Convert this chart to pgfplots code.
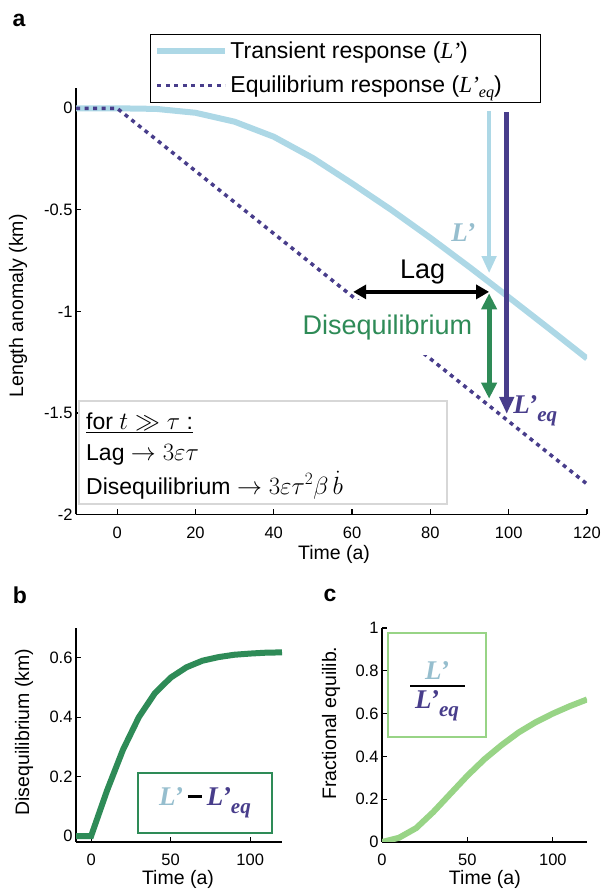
\documentclass[border=0pt]{standalone}
\usepackage{pgfplots}
\pgfplotsset{compat=1.18}
\usepackage{graphicx}
\usepackage{fontspec}
\setmainfont{Liberation Sans}
\newfontfamily\serifit{Liberation Serif}
\usetikzlibrary{arrows.meta}

\definecolor{ltblue}{RGB}{173,216,230}
\definecolor{ltbluetxt}{RGB}{150,190,206}
\definecolor{dpurple}{RGB}{72,61,139}
\definecolor{sgreen}{RGB}{46,139,87}
\definecolor{lgreen}{RGB}{152,212,134}
\definecolor{boxgray}{RGB}{215,215,215}

\newcommand{\fs}[1]{\fontsize{#1}{#1}\selectfont}
\newcommand{\Lp}{{\serifit\bfseries\itshape L’}}
\newcommand{\Leq}{{\serifit\bfseries\itshape L’\raisebox{-0.28em}{\scalebox{0.78}{eq}}}}
\newcommand{\lgLp}{{\serifit\itshape L’}}
\newcommand{\lgLeq}{{\serifit\itshape L’\raisebox{-0.22em}{\scalebox{0.7}{eq}}}}

\pgfplotsset{
  panel/.style={
    scale only axis, anchor=south west,
    axis lines*=left,
    axis line style={line width=1.6pt, black},
    tick align=inside, major tick length=5pt,
    tick style={line width=1.2pt, black},
    /pgf/number format/assume math mode=true,
    tick label style={font=\fs{16.5}},
    label style={font=\fs{19.5}},
  },
}

\begin{document}
\begin{tikzpicture}
\path[use as bounding box] (0pt,0pt) rectangle (602pt,890pt);

% ---- panel a ----
\begin{axis}[panel,
  at={(76pt,375.5pt)}, width=511pt, height=426.5pt,
  xmin=-10.5, xmax=120, ymin=-2, ymax=0.1,
  xtick={0,20,...,120},
  ytick={-2,-1.5,-1,-0.5,0}, yticklabels={-2,-1.5,-1,-0.5,0},
  xticklabel shift=9pt,
  xlabel={Time (a)}, ylabel={Length anomaly (km)},
  xlabel style={at={(axis description cs:0.505,-0.094)}, anchor=center},
  ylabel style={at={(axis description cs:-0.1135,0.489)}, anchor=center},
  legend style={at={(0.1448,1.1275)}, anchor=north west, draw=black,
    line width=1pt, font=\fs{23}, fill=white, inner xsep=4pt, inner ysep=6pt,
    row sep=12pt, nodes={inner sep=2pt}},
  legend cell align=left,
  legend image code/.code={\draw[#1] (0pt,0pt) -- (68pt,0pt);},
]
\addplot[ltblue, line width=6pt] coordinates {
  (-10.5,0) (0,0) (10,-0.003) (20,-0.022) (30,-0.066) (40,-0.14) (50,-0.245)
  (60,-0.37) (70,-0.5) (80,-0.638) (90,-0.782) (100,-0.93) (110,-1.08) (120,-1.232)
};
\addlegendentry{Transient response (\lgLp)}
\addplot[dpurple, line width=3.5pt, dash pattern=on 4pt off 4.5pt] coordinates {
  (-10.5,0) (0,0) (120,-1.85)
};
\addlegendentry{Equilibrium response (\lgLeq)\hspace*{33pt}}

\node[font=\fs{27}, text=sgreen, fill=white, inner xsep=10pt, inner ysep=15pt]
  at (axis cs:69,-1.079) {Disequilibrium};
\node[font=\fs{27}] at (axis cs:78,-0.805) {Lag};
\draw[ltblue, line width=4pt, -{Triangle[length=17pt,width=14pt]}]
  (axis cs:95,-0.013) -- (axis cs:95,-0.812);
\draw[dpurple, line width=4.5pt, -{Triangle[length=17pt,width=14pt]}]
  (axis cs:99.5,-0.02) -- (axis cs:99.5,-1.505);
\draw[black, line width=3.5pt,
  {Triangle[length=13pt,width=14pt]}-{Triangle[length=13pt,width=14pt]}]
  (axis cs:60.3,-0.904) -- (axis cs:95,-0.904);
\draw[sgreen, line width=5pt,
  {Triangle[length=16pt,width=15pt]}-{Triangle[length=16pt,width=15pt]}]
  (axis cs:95,-0.911) -- (axis cs:95,-1.43);
\node[font=\fs{27}, text=ltbluetxt] at (axis cs:88.4,-0.614) {\Lp};
\node[font=\fs{27}, text=dpurple] at (axis cs:106.8,-1.49) {\Leq};
\end{axis}

% formula box
\draw[boxgray, line width=2pt, fill=white] (79pt,489pt) rectangle (447pt,386pt);
\node[anchor=west, inner sep=0pt, font=\fs{23}] at (86pt,467pt) {\underline{for $t \gg \tau$ :}};
\node[anchor=west, inner sep=0pt, font=\fs{23}] at (86pt,435pt) {Lag $\rightarrow 3\varepsilon\tau$};
\node[anchor=west, inner sep=0pt, font=\fs{23}] at (86pt,405pt) {Disequilibrium $\rightarrow 3\varepsilon\tau^2\beta\,\dot{b}$};

% ---- panel b ----
\begin{axis}[panel,
  at={(76pt,48pt)}, width=206pt, height=214pt,
  xmin=-9.5, xmax=120, ymin=-0.02, ymax=0.7,
  xtick={0,50,100}, ytick={0,0.2,0.4,0.6},
  xticklabel shift=8pt,
  xlabel={Time (a)}, ylabel={Disequilibrium (km)},
  xlabel style={at={(axis description cs:0.495,-0.175)}, anchor=center},
  ylabel style={at={(axis description cs:-0.252,0.514)}, anchor=center},
]
\addplot[sgreen, line width=6pt] coordinates {
  (-9.5,0) (0,0) (10,0.153) (20,0.29) (30,0.40) (40,0.48) (50,0.533) (60,0.568)
  (70,0.59) (80,0.602) (90,0.61) (100,0.614) (110,0.617) (120,0.618)
};
\end{axis}
\draw[sgreen, line width=2pt, fill=white] (138pt,117pt) rectangle (272pt,57pt);
\node[font=\fs{27}] at (205pt,87pt)
  {\textcolor{ltbluetxt}{\Lp}\,\rule[0.28em]{0.55em}{0.12em}\,\textcolor{dpurple}{\Leq}};

% ---- panel c ----
\begin{axis}[panel,
  at={(382pt,48pt)}, width=205pt, height=214pt,
  xmin=0, xmax=120, ymin=0, ymax=1,
  xtick={0,50,100}, ytick={0,0.2,...,1},
  xticklabel shift=8pt,
  xlabel={Time (a)}, ylabel={Fractional equilib.},
  xlabel style={at={(axis description cs:0.502,-0.175)}, anchor=center},
  ylabel style={at={(axis description cs:-0.249,0.556)}, anchor=center},
]
\addplot[lgreen, line width=6pt] coordinates {
  (0,0) (10,0.02) (20,0.065) (30,0.14) (40,0.225) (50,0.31) (60,0.387)
  (70,0.453) (80,0.512) (90,0.56) (100,0.6) (110,0.635) (120,0.666)
};
\end{axis}
\draw[lgreen, line width=2pt, fill=white] (388pt,257pt) rectangle (486pt,153pt);
\node[font=\fs{27}, text=ltbluetxt] at (437pt,219pt) {\Lp};
\draw[black, line width=1.8pt] (410pt,204pt) -- (465pt,204pt);
\node[font=\fs{27}, text=dpurple] at (437pt,184pt) {\Leq};

% panel letters
\node[font=\bfseries\fs{23}] at (19pt,870pt) {a};
\node[font=\bfseries\fs{23}] at (20pt,295pt) {b};
\node[font=\bfseries\fs{23}] at (330pt,295pt) {c};
\end{tikzpicture}
\end{document}
